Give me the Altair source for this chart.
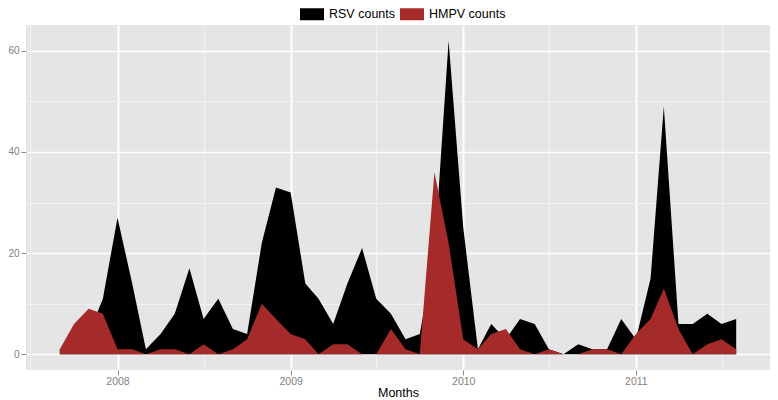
import altair as alt
import pandas as pd

# Monthly counts, Sep 2007 .. Aug 2011
months = list(pd.date_range("2007-09-01", periods=48, freq="MS").strftime("%Y-%m-%d"))

rsv_counts = [1, 2, 4, 11, 27, 14, 1, 4, 8, 17, 7, 11,
              5, 4, 22, 33, 32, 14, 11, 6, 14, 21, 11, 8,
              3, 4, 20, 62, 25, 1, 6, 3, 7, 6, 1, 0,
              2, 1, 1, 7, 3, 15, 49, 6, 6, 8, 6, 7]

hmpv_counts = [1, 6, 9, 8, 1, 1, 0, 1, 1, 0, 2, 0,
               1, 3, 10, 7, 4, 3, 0, 2, 2, 0, 0, 5,
               1, 0, 36, 22, 3, 1, 4, 5, 1, 0, 1, 0,
               0, 1, 1, 0, 4, 7, 13, 5, 0, 2, 3, 1]

series_names = ["RSV counts", "HMPV counts"]
series_colors = ["#000000", "#A52A2A"]

# axis ticks (major at years, minor at mid-year)
x_tick_months = [(2007, 7), (2008, 1), (2008, 7), (2009, 1), (2009, 7),
                 (2010, 1), (2010, 7), (2011, 1), (2011, 7)]
y_tick_values = [0, 10, 20, 30, 40, 50, 60]
x_domain = [(2007, 6, 21, 12), (2011, 10, 11, 12)]
y_domain = [-3.1, 65.1]

df = pd.DataFrame({
    "month": months * 2,
    "count": rsv_counts + hmpv_counts,
    "series": [series_names[0]] * len(months) + [series_names[1]] * len(months),
})

x_values = [alt.DateTime(year=y, month=m, date=1, utc=True) for y, m in x_tick_months]
x_dom = [alt.DateTime(year=y, month=m, date=d, hours=h, utc=True) for y, m, d, h in x_domain]

x_enc = alt.X(
    "month:T",
    scale=alt.Scale(type="utc", domain=x_dom),
    title="Months",
    axis=alt.Axis(
        values=x_values,
        labelExpr="utcmonth(datum.value) == 0 ? utcFormat(datum.value, '%Y') : ''",
        gridColor={"condition": {"test": "utcmonth(datum.value) == 0", "value": "#FFFFFF"}, "value": "#F2F2F2"},
        gridWidth={"condition": {"test": "utcmonth(datum.value) == 0", "value": 2}, "value": 1},
        tickOpacity={"condition": {"test": "utcmonth(datum.value) == 0", "value": 1}, "value": 0},
        labelOverlap=False,
        labelFlush=False,
        labelFontSize=10.5,
        labelPadding=1,
        titlePadding=0,
    ),
)

y_enc = alt.Y(
    "count:Q",
    scale=alt.Scale(domain=y_domain, nice=False, zero=False),
    title=None,
    axis=alt.Axis(
        values=y_tick_values,
        labelExpr="datum.value % 20 == 0 ? datum.label : ''",
        gridColor={"condition": {"test": "datum.value % 20 == 0", "value": "#FFFFFF"}, "value": "#F2F2F2"},
        gridWidth={"condition": {"test": "datum.value % 20 == 0", "value": 1.6}, "value": 1},
        tickOpacity={"condition": {"test": "datum.value % 20 == 0", "value": 1}, "value": 0},
        labelOverlap=False,
    ),
)

color_enc = alt.Color(
    "series:N",
    scale=alt.Scale(domain=series_names, range=series_colors),
    legend=alt.Legend(
        title=None,
        orient="none",
        legendX=274,
        legendY=-23,
        direction="horizontal",
        symbolType="M-1,-0.5H1V0.5H-1Z",
        symbolSize=576,
        symbolStrokeWidth=0,
        symbolOpacity=1,
        labelFont="Liberation Sans",
        labelFontSize=12.5,
        labelColor="#000000",
        labelOffset=5,
        columnPadding=4,
        padding=0,
    ),
)

base = alt.Chart(df)

rsv_layer = base.transform_filter(alt.datum.series == series_names[0]).mark_area(
    interpolate="linear", opacity=1
).encode(x=x_enc, y=y_enc, y2=alt.Y2Datum(0), color=color_enc)

hmpv_layer = base.transform_filter(alt.datum.series == series_names[1]).mark_area(
    interpolate="linear", opacity=1
).encode(x=x_enc, y=y_enc, y2=alt.Y2Datum(0), color=color_enc)

chart = alt.layer(rsv_layer, hmpv_layer).properties(
    width=744,
    height=345,
    autosize=alt.AutoSizeParams(type="none"),
    padding={"left": 18, "top": 17, "right": 0, "bottom": 30},
).configure_view(
    fill="#E5E5E5",
    strokeWidth=0,
).configure_axis(
    domain=False,
    labelFont="Liberation Sans",
    labelFontSize=10,
    labelColor="#7F7F7F",
    labelPadding=2,
    tickColor="#8C8C8C",
    tickSize=5,
    tickWidth=1,
    titleFont="Liberation Sans",
    titleFontSize=12.5,
    titleFontWeight="normal",
    titleColor="#000000",
)

chart.save("out.html", embed_options={"renderer": "svg", "actions": False})
